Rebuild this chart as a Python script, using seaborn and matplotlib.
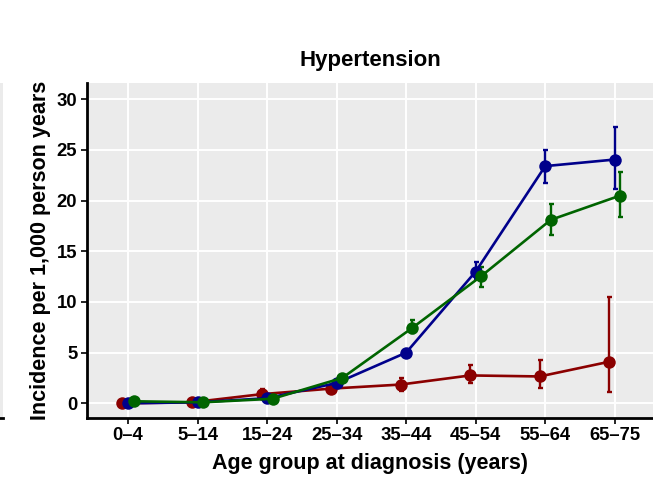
import seaborn as sns
import pandas as pd
import matplotlib.pyplot as plt

age_groups = ["0–4", "5–14", "15–24", "25–34", "35–44", "45–54", "55–64", "65–75"]
groups = ["red", "blue", "green"]

red_rate = [0.0, 0.1, 0.9, 1.45, 1.85, 2.75, 2.65, 4.1]
red_lo = [0.0, 0.0, 0.4, 1.2, 1.25, 2.0, 1.5, 1.1]
red_hi = [0.05, 0.2, 1.4, 1.7, 2.45, 3.75, 4.3, 10.5]

blue_rate = [0.0, 0.1, 0.5, 2.0, 5.0, 13.0, 23.4, 24.05]
blue_lo = [0.0, 0.05, 0.35, 1.8, 4.7, 12.3, 21.7, 21.1]
blue_hi = [0.05, 0.15, 0.65, 2.25, 5.3, 13.9, 25.0, 27.3]

green_rate = [0.2, 0.1, 0.45, 2.5, 7.4, 12.55, 18.1, 20.5]
green_lo = [0.15, 0.05, 0.3, 2.2, 6.9, 11.5, 16.6, 18.4]
green_hi = [0.25, 0.15, 0.6, 2.8, 8.2, 13.4, 19.7, 22.8]

colors = {"red": "#8B0000", "blue": "#00008B", "green": "#006400"}
offsets = {"red": -0.08, "blue": 0.0, "green": 0.08}

rows = []
for g, rate, lo, hi in [("red", red_rate, red_lo, red_hi),
                        ("blue", blue_rate, blue_lo, blue_hi),
                        ("green", green_rate, green_lo, green_hi)]:
    for i, a in enumerate(age_groups):
        rows.append({"group": g, "age": a, "pos": i + offsets[g],
                     "rate": rate[i], "lo": lo[i], "hi": hi[i]})
df = pd.DataFrame(rows)

sns.set_theme(style="darkgrid", rc={"axes.facecolor": "#EBEBEB", "grid.color": "white",
                                    "grid.linewidth": 1.4, "text.color": "black",
                                    "axes.labelcolor": "black", "xtick.color": "black",
                                    "ytick.color": "black"})
plt.rcParams["font.family"] = ["Liberation Sans", "DejaVu Sans"]

fig = plt.figure(figsize=(6.53, 4.78), dpi=100)
ax = fig.add_axes([87 / 653, (478 - 417.5) / 478, 1 - 87 / 653, (417.5 - 83) / 478])

# sliver of the neighbouring panel on the far left
side = fig.add_axes([-0.1, (478 - 417.5) / 478, 0.104, (417.5 - 83) / 478])
side.set_facecolor("#EBEBEB")
side.set_xticks([])
side.set_yticks([])
for s in ["top", "right", "left"]:
    side.spines[s].set_visible(False)
side.spines["bottom"].set_color("black")
side.spines["bottom"].set_linewidth(2)

for g in groups:
    d = df[df.group == g]
    ax.errorbar(d["pos"], d["rate"], yerr=[d["rate"] - d["lo"], d["hi"] - d["rate"]],
                fmt="none", ecolor=colors[g], elinewidth=1.7, capsize=1.8, capthick=1.7, zorder=2)
    sns.lineplot(data=d, x="pos", y="rate", color=colors[g], marker="o", markersize=9,
                 markeredgewidth=0, linewidth=1.9, ax=ax, zorder=3)

ax.set_xlim(-0.59, 7.55)
ax.set_ylim(-1.4, 31.6)
ax.set_xticks(range(len(age_groups)))
ax.set_xticklabels(age_groups)
ax.set_yticks([0, 5, 10, 15, 20, 25, 30])
ax.tick_params(axis="both", which="major", length=4, width=1.2, color="black",
               labelsize=13.3, labelcolor="black", bottom=True, left=True, pad=3)
for lab in ax.get_xticklabels() + ax.get_yticklabels():
    lab.set_fontweight("bold")

for s in ["top", "right"]:
    ax.spines[s].set_visible(False)
for s in ["left", "bottom"]:
    ax.spines[s].set_visible(True)
    ax.spines[s].set_color("black")
    ax.spines[s].set_linewidth(2)

ax.set_xlabel("Age group at diagnosis (years)", fontsize=15.5, fontweight="bold",
              labelpad=6, color="black")
ax.set_ylabel("Incidence per 1,000 person years", fontsize=15.5, fontweight="bold",
              labelpad=4, color="black")
ax.set_title("Hypertension", fontsize=16, fontweight="bold", pad=12, color="black")

fig.savefig("out.png", dpi=100)
